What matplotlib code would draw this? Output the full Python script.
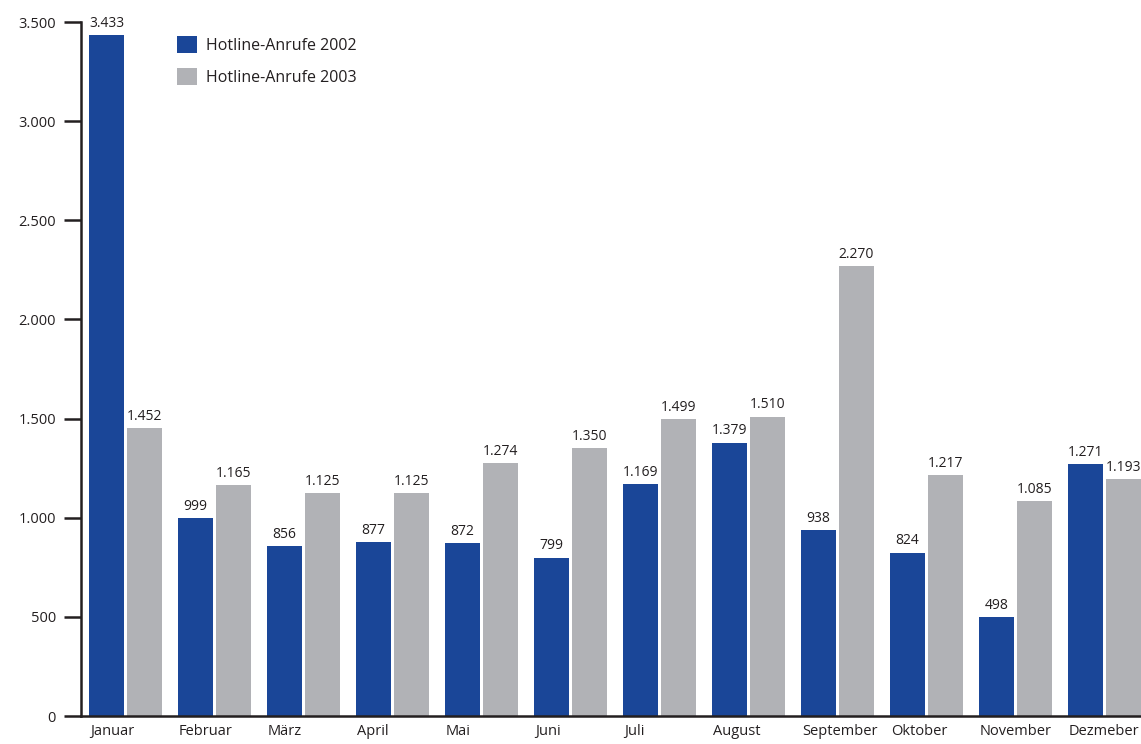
import matplotlib
matplotlib.use("Agg")
import matplotlib.pyplot as plt
import numpy as np

months = ["Januar", "Februar", "März", "April", "Mai", "Juni", "Juli",
          "August", "September", "Oktober", "November", "Dezmeber"]
calls_2002 = [3433, 999, 856, 877, 872, 799, 1169, 1379, 938, 824, 498, 1271]
calls_2003 = [1452, 1165, 1125, 1125, 1274, 1350, 1499, 1510, 2270, 1217, 1085, 1193]
series_names = ["Hotline-Anrufe 2002", "Hotline-Anrufe 2003"]
yticks = [0, 500, 1000, 1500, 2000, 2500, 3000, 3500]

def fmt(v):
    return f"{v:,}".replace(",", ".")

plt.rcParams['font.family'] = ['Open Sans', 'DejaVu Sans']
dark = "#231f20"
blue = "#1a4698"
gray = "#b1b2b6"

fig = plt.figure(figsize=(11.41, 7.44), dpi=100)
ax = fig.add_axes([81/1141, 1-716/744, 1-81/1141, (716-22)/744])

x = np.arange(len(months))
w = 35/89
off = 19/89
b1 = ax.bar(x - off, calls_2002, w, color=blue, label=series_names[0])
b2 = ax.bar(x + off, calls_2003, w, color=gray, label=series_names[1])

for bars, vals in ((b1, calls_2002), (b2, calls_2003)):
    for r, v in zip(bars, vals):
        ax.annotate(fmt(v), (r.get_x() + r.get_width()/2, v), xytext=(0, 3),
                    textcoords="offset points", ha="center", va="bottom",
                    fontsize=10, color=dark)

ax.set_xlim(-0.5, 11.41)
ax.set_ylim(0, 3500)
ax.set_yticks(yticks)
ax.set_yticklabels([fmt(t) for t in yticks], fontsize=10.5, color=dark)
ax.set_xticks(x - off - w/2 + 0.01)
ax.set_xticklabels(months, fontsize=10.5, color=dark, ha="left")
ax.tick_params(axis='x', length=0, pad=6)
ax.tick_params(axis='y', length=12, width=1.8, color=dark, pad=6)
for s in ("top", "right"):
    ax.spines[s].set_visible(False)
for s in ("left", "bottom"):
    ax.spines[s].set_color(dark)
    ax.spines[s].set_linewidth(1.8)

leg = ax.legend(loc="upper left", bbox_to_anchor=(163/1141, 1-22/744),
                bbox_transform=fig.transFigure, frameon=False, fontsize=11.5,
                handlelength=1.2, handleheight=1.2, handletextpad=0.6,
                labelspacing=0.9, labelcolor=dark)

fig.savefig("out.png", dpi=100)
